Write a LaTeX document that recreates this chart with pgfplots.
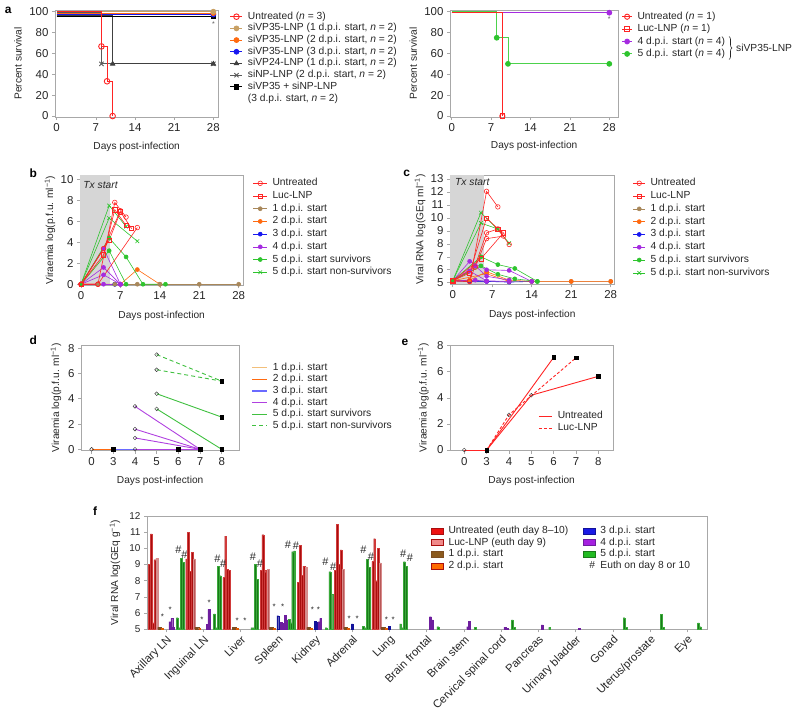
\documentclass[border=0pt]{standalone}
\usepackage{fontspec}
\setmainfont{Liberation Sans}
\usepackage{pgfplots}
\pgfplotsset{compat=1.18}
\usetikzlibrary{decorations.pathreplacing}

\definecolor{cRed}{HTML}{FF2424}
\definecolor{cTanA}{HTML}{C8A064}
\definecolor{cTan}{HTML}{A8875A}
\definecolor{cOra}{HTML}{FF6A10}
\definecolor{cBlu}{HTML}{1818F0}
\definecolor{cPur}{HTML}{A52BE0}
\definecolor{cGre}{HTML}{2EC42E}
\definecolor{cGreA}{HTML}{4CD24C}
\definecolor{cDk}{HTML}{404040}
\definecolor{cGry}{HTML}{5A5A5A}
\definecolor{cFrame}{HTML}{A8A8A8}
\definecolor{cShade}{HTML}{D6D6D6}
\definecolor{dTan}{HTML}{F2BF7A}
\definecolor{dBlu}{HTML}{6A6AFF}
\definecolor{dPur}{HTML}{B040E0}
\definecolor{dGre}{HTML}{40C040}
\definecolor{fRed}{HTML}{A80E0E}
\definecolor{fRedE}{HTML}{D03A3A}
\definecolor{fLuc}{HTML}{B85858}
\definecolor{fLucE}{HTML}{D88A8A}
\definecolor{fBro}{HTML}{7E4E22}
\definecolor{fOra}{HTML}{E05A00}
\definecolor{fBlu}{HTML}{12129A}
\definecolor{fPur}{HTML}{6E1E9E}
\definecolor{fGre}{HTML}{1A7A1A}
\definecolor{fGreE}{HTML}{3AAA3A}
\definecolor{lRed}{HTML}{EE1111}
\definecolor{lLuc}{HTML}{F08A8A}
\definecolor{lBro}{HTML}{8B5A1E}
\definecolor{lOra}{HTML}{FF6A00}
\definecolor{lBlu}{HTML}{1A1AE6}
\definecolor{lPur}{HTML}{A520E0}
\definecolor{lGre}{HTML}{22BB22}

\tikzset{
  hashn/.style={inner sep=0pt, font=\fontsize{11}{11}\selectfont, text=black!85},
  astn/.style={inner sep=0pt, yshift=-1.7bp, font=\fontsize{8}{8}\selectfont, text=black!85},
}
\pgfplotsset{
  base/.style={
    scale only axis,
    axis line style={cFrame, line width=0.8bp},
    every tick/.style={cFrame, line width=0.6bp},
    tick align=outside,
    major tick length=3bp,
    tick pos=left,
    /pgf/number format/assume math mode=true,
    tick label style={font=\fontsize{11.5}{11.5}\selectfont, text=black!85},
    label style={font=\fontsize{10.2}{10.2}\selectfont, text=black!85},
    xlabel style={anchor=center},
    ylabel style={anchor=center},
    legend style={draw=none, fill=none, inner sep=0pt, outer sep=0pt, row sep=0pt,
      anchor=north west, font=\fontsize{10.3}{10.3}\selectfont, text=black!85,
      nodes={inner xsep=5bp, inner ysep=1bp, text height=7.5bp, text depth=2.5bp}},
    legend cell align=left,
    clip=false,
  },
  lm/.style={legend image code/.code={\draw[mark repeat=2,mark phase=2,##1] plot coordinates {(0bp,0bp) ({#1*0.5bp},0bp) ({#1*1bp},0bp)};}},
  fleg/.style={legend image code/.code={\draw[##1, line width=0.5bp] (0bp,-3bp) rectangle (11.6bp,3bp);}},
  uS/.style={cRed, line width=0.6bp, mark=o, mark size=2.3bp, mark options={fill=white, solid}},
  lS/.style={cRed, line width=0.6bp, mark=square, mark size=2.1bp, mark options={fill=white, solid}},
  tS/.style={cTan, line width=0.6bp, mark=*, mark size=2bp},
  oS/.style={cOra, line width=0.6bp, mark=*, mark size=2bp},
  bS/.style={cBlu, line width=0.6bp, mark=*, mark size=2bp},
  pS/.style={cPur, line width=0.6bp, mark=*, mark size=2bp},
  gS/.style={cGre, line width=0.6bp, mark=*, mark size=2bp},
  nS/.style={cGre, line width=0.6bp, mark=x, mark size=2.6bp},
  fbar/.style={ybar, bar width=0.05, bar shift=0pt, line width=0.2bp, forget plot},
}

\begin{document}
\begin{tikzpicture}
\path[use as bounding box] (0,0) rectangle (800bp,712bp);

% panel labels
\node[font=\bfseries\fontsize{12}{12}\selectfont] at (8.3bp,702bp) {a};
\node[font=\bfseries\fontsize{12}{12}\selectfont] at (33.3bp,538.7bp) {b};
\node[font=\bfseries\fontsize{12}{12}\selectfont] at (406.7bp,538.7bp) {c};
\node[font=\bfseries\fontsize{12}{12}\selectfont] at (33.3bp,372bp) {d};
\node[font=\bfseries\fontsize{12}{12}\selectfont] at (405bp,369.3bp) {e};
\node[font=\bfseries\fontsize{12}{12}\selectfont] at (95bp,201.3bp) {f};

% ================= panel a left
\begin{axis}[base, lm=12, at={(55bp,701.9bp)}, anchor=north west,
  width=163.4bp, height=107bp,
  xmin=-0.3, xmax=28.9, ymin=-1, ymax=101.5,
  xtick={0,7,14,21,28}, ytick={0,20,...,100},
  xlabel={Days post-infection}, ylabel={Percent survival},
  xlabel style={at={(axis description cs:0.5,-0.280)}},
  ylabel style={at={(axis description cs:-0.226,0.5)}},
  legend style={at={(1.071,0.993)}, nodes={inner ysep=0.85bp}}]
\addplot[cGry, line width=0.9bp, const plot, mark=x, mark size=3bp, mark indices={2,3}, forget plot] coordinates {(0,99.5) (8,50) (28,50)};
\addplot[cDk, line width=0.9bp, const plot, mark=triangle*, mark size=2.4bp, mark indices={2,3}, forget plot] coordinates {(0,96.5) (10,50) (28,50)};
\addplot[black, line width=0.9bp, mark=square*, mark size=2.1bp, mark indices={2}, forget plot] coordinates {(0,95.5) (28,95.5)};
\addplot[cBlu, line width=0.9bp, mark=*, mark size=2.4bp, mark indices={2}, forget plot] coordinates {(0,97.2) (28,97.2)};
\addplot[cOra, line width=0.9bp, mark=*, mark size=2.4bp, mark indices={2}, forget plot] coordinates {(0,98.6) (28,98.6)};
\addplot[cTanA, line width=0.9bp, mark=*, mark size=2.4bp, mark indices={2}, forget plot] coordinates {(0,100) (28,100)};
\addplot[cRed, line width=0.9bp, const plot, mark=o, mark size=2.8bp, mark options={fill=white}, mark indices={2,3,4}, forget plot] coordinates {(0,100) (8,66.7) (9,33.3) (10,0)};
\node[font=\fontsize{7}{7}\selectfont, text=cGry] at (axis cs:28,88) {*};
\addlegendimage{cRed, line width=0.9bp, mark=o, mark size=2.8bp, mark options={fill=white}}
\addlegendentry{Untreated (\textit{n} = 3)}
\addlegendimage{cTanA, line width=0.9bp, mark=*, mark size=2.4bp}
\addlegendentry{siVP35-LNP (1 d.p.i. start, \textit{n} = 2)}
\addlegendimage{cOra, line width=0.9bp, mark=*, mark size=2.4bp}
\addlegendentry{siVP35-LNP (2 d.p.i. start, \textit{n} = 2)}
\addlegendimage{cBlu, line width=0.9bp, mark=*, mark size=2.4bp}
\addlegendentry{siVP35-LNP (3 d.p.i. start, \textit{n} = 2)}
\addlegendimage{cDk, line width=0.9bp, mark=triangle*, mark size=2.4bp}
\addlegendentry{siVP24-LNP (1 d.p.i. start, \textit{n} = 2)}
\addlegendimage{cGry, line width=0.9bp, mark=x, mark size=3bp}
\addlegendentry{siNP-LNP (2 d.p.i. start, \textit{n} = 2)}
\addlegendimage{black, line width=0.9bp, mark=square*, mark size=2.1bp}
\addlegendentry{siVP35 + siNP-LNP}
\addlegendimage{empty legend}
\addlegendentry{(3 d.p.i. start, \textit{n} = 2)}
\end{axis}

% ================= panel a right
\begin{axis}[base, lm=10, at={(450bp,701.9bp)}, anchor=north west,
  width=168.3bp, height=107bp,
  xmin=-0.3, xmax=29.6, ymin=-1, ymax=101.5,
  xtick={0,7,14,21,28}, ytick={0,20,...,100},
  xlabel={Days post-infection}, ylabel={Percent survival},
  xlabel style={at={(axis description cs:0.5,-0.271)}},
  ylabel style={at={(axis description cs:-0.218,0.5)}},
  legend style={at={(1.020,0.996)}, nodes={inner ysep=1.2bp}}]
\addplot[cGreA, line width=0.9bp, const plot, mark=*, mark size=2.4bp, mark options={cGre}, mark indices={2,3,4}, forget plot] coordinates {(0,100) (8,75) (10,50) (28,50)};
\addplot[cPur, line width=0.9bp, mark=*, mark size=2.4bp, mark indices={2}, forget plot] coordinates {(0,99) (28,99)};
\addplot[cRed, line width=0.9bp, const plot, mark=o, mark size=2.6bp, mark options={fill=white}, mark indices={2}, forget plot] coordinates {(0,99.6) (9,0)};
\addplot[cRed, line width=0.9bp, const plot, mark=square, mark size=2.4bp, mark options={fill=white}, mark indices={2}, forget plot] coordinates {(0,99.6) (9,0)};
\node[font=\fontsize{7}{7}\selectfont, text=cGry] at (axis cs:28,93) {*};
\addlegendimage{cRed, line width=0.9bp, mark=o, mark size=2.6bp, mark options={fill=white}}
\addlegendentry{Untreated (\textit{n} = 1)}
\addlegendimage{cRed, line width=0.9bp, mark=square, mark size=2.4bp, mark options={fill=white}}
\addlegendentry{Luc-LNP (\textit{n} = 1)}
\addlegendimage{cPur, line width=0.9bp, mark=*, mark size=2.4bp}
\addlegendentry{4 d.p.i. start (\textit{n} = 4)}
\addlegendimage{cGreA, line width=0.9bp, mark=*, mark size=2.4bp, mark options={cGre}}
\addlegendentry{5 d.p.i. start (\textit{n} = 4)}
\end{axis}
\draw[decorate, decoration={brace, amplitude=3bp}, line width=0.6bp, black!85] (729bp,675.5bp) -- (729bp,652.5bp);
\node[anchor=west, font=\fontsize{10.3}{10.3}\selectfont, text=black!85, inner sep=0pt] at (736bp,663.7bp) {siVP35-LNP};

% ================= panel b
\begin{axis}[base, lm=14, at={(80bp,537bp)}, anchor=north west,
  width=163.3bp, height=110.3bp,
  xmin=-0.18, xmax=28.82, ymin=-0.1, ymax=10.41,
  xtick={0,7,14,21,28}, ytick={0,2,...,10},
  xlabel={Days post-infection}, ylabel={Viraemia log(p.f.u. ml\textsuperscript{−1})},
  xlabel style={at={(axis description cs:0.5,-0.277)}},
  ylabel style={at={(axis description cs:-0.184,0.5)}},
  legend style={at={(1.059,0.982)}, nodes={inner ysep=1.35bp}}]
\addplot[fill=cShade, draw=none, forget plot] coordinates {(-0.18,-0.1) (5.2,-0.1) (5.2,10.41) (-0.18,10.41)};
\node[anchor=north west, inner sep=0pt, font=\itshape\fontsize{10.3}{10.3}\selectfont, text=black!85] at (axis cs:0.4,9.85) {Tx start};
\addplot[oS, forget plot] coordinates {(0,0) (3,0) (7,0) (10,1.4) (14,0)};
\addplot[oS, forget plot] coordinates {(0,0) (3,0) (7,0)};
\addplot[bS, forget plot] coordinates {(0,0) (3,0) (6,0)};
\addplot[bS, forget plot] coordinates {(0,0) (3,0) (6,0)};
\addplot[tS, forget plot] coordinates {(0,0) (3,0) (6,0) (10,0) (14,0) (21,0) (28,0)};
\addplot[pS, forget plot] coordinates {(0,0) (4,3.4) (7,0)};
\addplot[pS, forget plot] coordinates {(0,0) (4,1.6) (7,0)};
\addplot[pS, forget plot] coordinates {(0,0) (4,0.9) (7,0)};
\addplot[pS, forget plot] coordinates {(0,0) (4,0) (7,0)};
\addplot[gS, forget plot] coordinates {(0,0) (5,4.4) (8,2.6) (11,0) (15,0)};
\addplot[gS, forget plot] coordinates {(0,0) (5,3.2) (8,0)};
\addplot[nS, forget plot] coordinates {(0,0) (5,7.5) (8,5.5)};
\addplot[nS, forget plot] coordinates {(0,0) (5,6.3) (10,4.1)};
\addplot[uS, forget plot] coordinates {(0,0) (3,0) (6,7.8) (8,6.4)};
\addplot[uS, forget plot] coordinates {(0,0) (3,0) (10,5.4)};
\addplot[uS, forget plot] coordinates {(0,0) (4,3.4) (7,7.0)};
\addplot[lS, forget plot] coordinates {(0,0) (4,2.8) (6,7.1) (8,5.6)};
\addplot[lS, forget plot] coordinates {(0,0) (5,4.2) (7,6.9) (9,5.3)};
\addlegendimage{uS}\addlegendentry{Untreated}
\addlegendimage{lS}\addlegendentry{Luc-LNP}
\addlegendimage{tS}\addlegendentry{1 d.p.i. start}
\addlegendimage{oS}\addlegendentry{2 d.p.i. start}
\addlegendimage{bS}\addlegendentry{3 d.p.i. start}
\addlegendimage{pS}\addlegendentry{4 d.p.i. start}
\addlegendimage{gS}\addlegendentry{5 d.p.i. start survivors}
\addlegendimage{nS}\addlegendentry{5 d.p.i. start non-survivors}
\end{axis}

% ================= panel c
\begin{axis}[base, lm=12, at={(450bp,537bp)}, anchor=north west,
  width=164.5bp, height=109.3bp,
  xmin=-0.48, xmax=28.67, ymin=4.88, ymax=13.31,
  xtick={0,7,14,21,28}, ytick={5,...,13},
  xlabel={Days post-infection}, ylabel={Viral RNA log(GEq ml\textsuperscript{−1})},
  xlabel style={at={(axis description cs:0.5,-0.284)}},
  ylabel style={at={(axis description cs:-0.182,0.5)}},
  legend style={at={(1.112,0.983)}, nodes={inner ysep=1.4bp}}]
\addplot[fill=cShade, draw=none, forget plot] coordinates {(-0.48,4.88) (5.6,4.88) (5.6,13.31) (-0.48,13.31)};
\node[anchor=north west, inner sep=0pt, font=\itshape\fontsize{10.3}{10.3}\selectfont, text=black!85] at (axis cs:0.4,13.05) {Tx start};
\addplot[tS, forget plot] coordinates {(0,5.15) (3,5.15) (6,5.1) (14,5.1) (21,5.1) (28,5.1)};
\addplot[bS, forget plot] coordinates {(0,5.15) (3,5.1) (6,5.1) (10,5.05) (14,5.1)};
\addplot[bS, forget plot] coordinates {(0,5.15) (6,5.12)};
\addplot[oS, forget plot] coordinates {(0,5.15) (3,5.2) (6,5.85) (10,5.2) (14,5.1) (21,5.1) (28,5.1)};
\addplot[oS, forget plot] coordinates {(0,5.15) (6,5.7) (10,5.1)};
\addplot[pS, forget plot] coordinates {(0,5.15) (3,6.65) (6,6.0) (10,5.95) (14,5.1)};
\addplot[pS, forget plot] coordinates {(0,5.15) (4,6.3) (6,5.5) (10,5.2)};
\addplot[pS, forget plot] coordinates {(0,5.15) (3,5.9) (6,5.15) (10,5.1)};
\addplot[pS, forget plot] coordinates {(0,5.15) (4,5.2) (6,5.1)};
\addplot[gS, forget plot] coordinates {(0,5.15) (5,7.0) (8,6.4) (11,6.1) (15,5.1)};
\addplot[gS, forget plot] coordinates {(0,5.15) (5,6.3) (8,5.65) (11,5.3) (15,5.1)};
\addplot[nS, forget plot] coordinates {(0,5.15) (5,10.4) (8,9.1) (10,8.05)};
\addplot[nS, forget plot] coordinates {(0,5.15) (5,9.6) (8,9.15)};
\addplot[uS, forget plot] coordinates {(0,5.15) (3,5.1) (6,12.05) (8,10.85)};
\addplot[uS, forget plot] coordinates {(0,5.15) (3,5.1) (6,8.85) (8,9.15) (10,7.95)};
\addplot[uS, forget plot] coordinates {(0,5.15) (4,6.2) (6,8.4) (9,8.6)};
\addplot[lS, forget plot] coordinates {(0,5.15) (3,5.75) (6,10.0) (8,9.15) (9,8.85)};
\addplot[lS, forget plot] coordinates {(0,5.15) (5,6.85) (9,8.85)};
\addlegendimage{uS}\addlegendentry{Untreated}
\addlegendimage{lS}\addlegendentry{Luc-LNP}
\addlegendimage{tS}\addlegendentry{1 d.p.i. start}
\addlegendimage{oS}\addlegendentry{2 d.p.i. start}
\addlegendimage{bS}\addlegendentry{3 d.p.i. start}
\addlegendimage{pS}\addlegendentry{4 d.p.i. start}
\addlegendimage{gS}\addlegendentry{5 d.p.i. start survivors}
\addlegendimage{nS}\addlegendentry{5 d.p.i. start non-survivors}
\end{axis}

% ================= panel d
\begin{axis}[base, lm=15, at={(81bp,367bp)}, anchor=north west,
  width=158.3bp, height=105.7bp,
  xmin=-0.49, xmax=6.81, ymin=-0.11, ymax=8.26,
  xtick={0,...,6}, xticklabels={0,3,4,5,6,7,8}, ytick={0,2,...,8},
  xlabel={Days post-infection}, ylabel={Viraemia log(p.f.u. ml\textsuperscript{−1})},
  xlabel style={at={(axis description cs:0.5,-0.284)}},
  ylabel style={at={(axis description cs:-0.158,0.5)}},
  legend style={at={(1.078,0.84)}, nodes={inner ysep=0.8bp}}]
\addplot[dTan, line width=0.9bp, forget plot] coordinates {(0,0) (1,0)};
\addplot[cOra, line width=0.9bp, forget plot] coordinates {(0,0) (1,0)};
\addplot[dBlu, line width=0.9bp, forget plot] coordinates {(1,0) (4,0)};
\addplot[dPur, line width=0.9bp, forget plot] coordinates {(2,0) (5,0)};
\addplot[dPur, line width=0.9bp, forget plot] coordinates {(2,0.9) (5,0)};
\addplot[dPur, line width=0.9bp, forget plot] coordinates {(2,1.6) (5,0)};
\addplot[dPur, line width=0.9bp, forget plot] coordinates {(2,3.4) (5,0)};
\addplot[dGre, line width=0.9bp, forget plot] coordinates {(3,4.4) (6,2.55)};
\addplot[dGre, line width=0.9bp, forget plot] coordinates {(3,3.2) (6,0)};
\addplot[dGre, line width=0.9bp, dash pattern=on 4bp off 3bp, forget plot] coordinates {(3,7.5) (6,5.4)};
\addplot[dGre, line width=0.9bp, dash pattern=on 4bp off 3bp, forget plot] coordinates {(3,6.3) (6,5.4)};
\addplot[only marks, mark=o, mark size=1.9bp, black!80, mark options={fill=white}, forget plot] coordinates {(0,0) (2,0) (2,0.9) (2,1.6) (2,3.4) (3,3.2) (3,4.4) (3,6.3) (3,7.5)};
\addplot[only marks, mark=square*, mark size=1.9bp, black, forget plot] coordinates {(1,0) (4,0) (5,0) (6,0) (6,2.55) (6,5.4)};
\addlegendimage{dTan, line width=1.2bp}\addlegendentry{1 d.p.i. start}
\addlegendimage{cOra, line width=1.2bp}\addlegendentry{2 d.p.i. start}
\addlegendimage{dBlu, line width=1.2bp}\addlegendentry{3 d.p.i. start}
\addlegendimage{dPur, line width=1.2bp}\addlegendentry{4 d.p.i. start}
\addlegendimage{dGre, line width=1.2bp}\addlegendentry{5 d.p.i. start survivors}
\addlegendimage{dGre, line width=1.2bp, dash pattern=on 4bp off 3bp}\addlegendentry{5 d.p.i. start non-survivors}
\end{axis}

% ================= panel e
\begin{axis}[base, lm=13.4, at={(450bp,367bp)}, anchor=north west,
  width=163.3bp, height=105.7bp,
  xmin=-0.64, xmax=6.67, ymin=-0.05, ymax=8.05,
  xtick={0,...,6}, xticklabels={0,3,4,5,6,7,8}, ytick={0,2,...,8},
  xlabel={Days post-infection}, ylabel={Viraemia log(p.f.u. ml\textsuperscript{−1})},
  xlabel style={at={(axis description cs:0.5,-0.284)}},
  ylabel style={at={(axis description cs:-0.163,0.5)}},
  legend style={at={(0.541,0.386)}, nodes={inner ysep=1.15bp}}]
\addplot[cRed, line width=0.9bp, forget plot] coordinates {(0,0) (1,0)};
\addplot[cRed, line width=0.9bp, forget plot] coordinates {(1,0) (4,7.1)};
\addplot[cRed, line width=0.9bp, forget plot] coordinates {(1,0) (3,4.2) (6,5.65)};
\addplot[cRed, line width=0.9bp, dash pattern=on 3bp off 2bp, forget plot] coordinates {(1,0) (2,2.7) (5,7.07)};
\addplot[only marks, mark=o, mark size=1.9bp, black!80, mark options={fill=white}, forget plot] coordinates {(0,0) (2,2.7) (3,4.2)};
\addplot[only marks, mark=square*, mark size=1.9bp, black, forget plot] coordinates {(1,0) (4,7.1) (5,7.07) (6,5.65)};
\addlegendimage{cRed, line width=1bp}\addlegendentry{Untreated}
\addlegendimage{cRed, line width=1bp, dash pattern=on 3bp off 2bp}\addlegendentry{Luc-LNP}
\end{axis}

% ================= panel f
\begin{axis}[base, fleg, at={(147bp,196bp)}, anchor=north west,
  width=560bp, height=113.3bp, clip=true,
  xmin=0.487, xmax=15.53, ymin=5, ymax=12,
  ytick={5,...,12}, xtick={1,...,15},
  xticklabels={Axillary LN, Inguinal LN, Liver, Spleen, Kidney, Adrenal, Lung, Brain frontal, Brain stem, Cervical spinal cord, Pancreas, Urinary bladder, Gonad, Uterus/prostate, Eye},
  xticklabel style={rotate=45, anchor=north east, inner sep=1.5bp, font=\fontsize{11.3}{11.3}\selectfont},
  yticklabel style={font=\fontsize{10}{10}\selectfont},
  ylabel={Viral RNA log(GEq g\textsuperscript{−1})},
  ylabel style={at={(axis description cs:-0.0571,0.5)}},
  legend columns=2,
  legend style={at={(0.508,0.919)}, nodes={inner ysep=0.8bp}, /tikz/every even column/.append style={column sep=10bp}}]
% untreated
\addplot[fbar, fill=fRed, draw=fRedE] coordinates {
 (0.55,9.0) (0.60,10.9) (0.65,5.4) (0.70,9.3)
 (1.55,9.35) (1.60,11.0) (1.65,8.6) (1.70,9.75)
 (2.55,8.2) (2.60,10.75) (2.65,8.7) (2.70,8.65)
 (3.55,8.65) (3.60,10.85) (3.65,8.65) (3.70,8.5)
 (4.55,7.9) (4.60,10.2) (4.65,8.35) (4.70,8.9)
 (5.55,8.65) (5.60,11.5) (5.65,9.0) (5.70,9.9)
 (6.55,9.2) (6.60,10.6) (6.65,8.0) (6.70,10.0)};
% Luc
\addplot[fbar, fill=fLuc, draw=fLucE] coordinates {
 (0.75,9.4) (1.75,9.35) (3.75,8.7) (4.75,8.85) (5.75,8.7) (6.75,9.1)};
% 1 dpi
\addplot[fbar, fill=fBro, draw=fBro] coordinates {
 (0.80,5.12) (0.85,5.12) (1.80,5.12) (1.85,5.12) (2.80,5.12) (2.85,5.12)
 (3.80,5.12) (3.85,5.12) (4.80,5.12) (4.85,5.12) (5.80,5.12) (5.85,5.12)
 (6.80,5.12) (6.85,5.12)};
% 2 dpi
\addplot[fbar, fill=fOra, draw=fOra] coordinates {
 (0.90,5.06) (1.90,5.06) (2.90,5.06) (3.90,5.06) (4.90,5.06) (5.90,5.06) (6.90,5.06)};
% 3 dpi
\addplot[fbar, fill=fBlu, draw=fBlu] coordinates {
 (4.00,5.84) (5.00,5.5) (5.05,5.45) (6.00,5.33) (7.00,5.2)};
% 4 dpi
\addplot[fbar, fill=fPur, draw=fPur] coordinates {
 (1.10,5.47) (1.15,5.68) (1.20,5.14) (2.10,5.3) (2.15,6.23)
 (4.10,5.43) (4.15,5.37) (4.20,5.88) (4.25,5.58) (5.10,5.47) (5.15,5.68)
 (8.10,5.78) (8.15,5.58) (9.10,5.16) (9.15,5.51) (10.10,5.12) (10.15,5.05)
 (11.10,5.27) (12.10,5.08)};
% 5 dpi
\addplot[fbar, fill=fGre, draw=fGreE] coordinates {
 (1.30,5.72) (1.35,5.1) (1.40,9.38) (1.45,9.14)
 (2.30,5.95) (2.35,5.1) (2.40,8.9) (2.45,8.31)
 (3.30,5.1) (3.35,5.1) (3.40,9.0) (3.45,8.1)
 (4.30,5.6) (4.35,5.4) (4.40,9.8) (4.45,9.84)
 (5.30,5.1) (5.40,8.56) (5.45,7.18)
 (6.30,5.2) (6.35,5.1) (6.40,9.34) (6.45,8.83)
 (7.30,5.33) (7.35,5.1) (7.40,9.18) (7.45,8.9)
 (8.30,5.16) (9.30,5.12) (10.30,5.58) (10.35,5.12) (11.30,5.12)
 (13.30,5.72) (13.35,5.12) (14.30,5.93) (14.35,5.12) (15.30,5.39) (15.35,5.16)};
% annotations
\node[hashn] at (axis cs:1.33,9.92) {\#};
\node[hashn] at (axis cs:1.49,9.61) {\#};
\node[hashn] at (axis cs:2.38,9.37) {\#};
\node[hashn] at (axis cs:2.53,9.07) {\#};
\node[hashn] at (axis cs:3.33,9.51) {\#};
\node[hashn] at (axis cs:3.52,9.07) {\#};
\node[hashn] at (axis cs:4.27,10.25) {\#};
\node[hashn] at (axis cs:4.49,10.16) {\#};
\node[hashn] at (axis cs:5.28,9.17) {\#};
\node[hashn] at (axis cs:5.49,8.86) {\#};
\node[hashn] at (axis cs:6.30,9.9) {\#};
\node[hashn] at (axis cs:6.50,9.48) {\#};
\node[hashn] at (axis cs:7.37,9.69) {\#};
\node[hashn] at (axis cs:7.55,9.42) {\#};
\node[astn] at (axis cs:0.90,5.88) {*};
\node[astn] at (axis cs:1.11,6.3) {*};
\node[astn] at (axis cs:1.96,5.68) {*};
\node[astn] at (axis cs:2.16,6.77) {*};
\node[astn] at (axis cs:2.91,5.62) {*};
\node[astn] at (axis cs:3.12,5.62) {*};
\node[astn] at (axis cs:3.90,6.5) {*};
\node[astn] at (axis cs:4.13,6.5) {*};
\node[astn] at (axis cs:4.93,6.3) {*};
\node[astn] at (axis cs:5.09,6.3) {*};
\node[astn] at (axis cs:5.92,5.78) {*};
\node[astn] at (axis cs:6.13,5.78) {*};
\node[astn] at (axis cs:6.92,5.72) {*};
\node[astn] at (axis cs:7.10,5.72) {*};
\addlegendimage{fill=lRed, draw=fRed}\addlegendentry{Untreated (euth day 8–10)}
\addlegendimage{fill=lBlu, draw=fBlu}\addlegendentry{3 d.p.i. start}
\addlegendimage{fill=lLuc, draw=fRed}\addlegendentry{Luc-LNP (euth day 9)}
\addlegendimage{fill=lPur, draw=fPur}\addlegendentry{4 d.p.i. start}
\addlegendimage{fill=lBro, draw=fBro}\addlegendentry{1 d.p.i. start}
\addlegendimage{fill=lGre, draw=fGre}\addlegendentry{5 d.p.i. start}
\addlegendimage{fill=lOra, draw=fRed}\addlegendentry{2 d.p.i. start}
\addlegendimage{legend image code/.code={\node[inner sep=0pt, font=\fontsize{10.3}{10.3}\selectfont] at (5.8bp,0bp) {\#};}}\addlegendentry{Euth on day 8 or 10}
\end{axis}
\end{tikzpicture}
\end{document}
